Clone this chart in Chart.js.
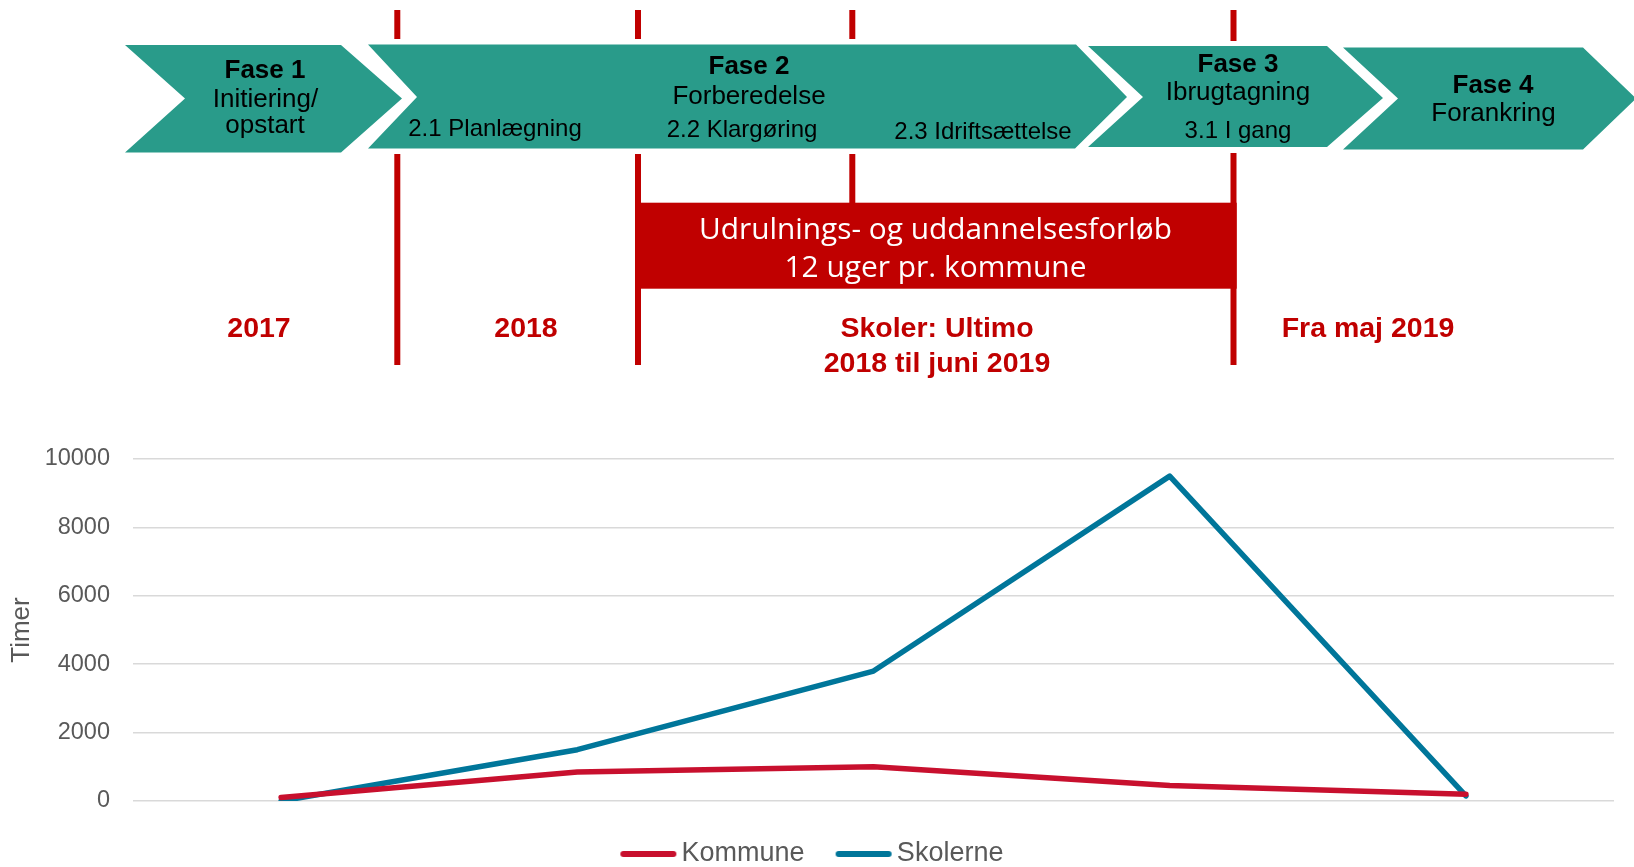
<!DOCTYPE html>
<html>
<head>
<meta charset="utf-8">
<script src="https://cdn.jsdelivr.net/npm/chart.js@4.4.1/dist/chart.umd.min.js"></script>
<style>
  html, body { margin: 0; padding: 0; background: #fff; }
  #wrap { position: relative; width: 1634px; height: 867px; overflow: hidden; }
  #wrap canvas { position: absolute; left: 0; top: 0; }
  #phases { position: absolute; left: 0; top: 0; font-family: "Liberation Sans", Arial, sans-serif; }
</style>
</head>
<body>
<div id="wrap">
  <canvas id="timerChart"></canvas>
  <svg id="phases" width="1634" height="400" xmlns="http://www.w3.org/2000/svg">
    <!-- røde skillelinjer -->
    <g fill="#C00000">
      <rect x="394.3" y="10" width="6" height="29"/>
      <rect x="394.3" y="154" width="6" height="211"/>
      <rect x="635" y="10" width="6" height="29"/>
      <rect x="635" y="154" width="6" height="211"/>
      <rect x="849.3" y="10" width="6" height="29"/>
      <rect x="849.3" y="154" width="6" height="50"/>
      <rect x="1230.5" y="10" width="6" height="31"/>
      <rect x="1230.5" y="153" width="6" height="212"/>
      <rect x="635" y="202.7" width="601.7" height="86"/>
    </g>
    <!-- faser -->
    <g fill="#299B8A">
      <polygon points="125,45 341,45 402,98.5 341,152.5 125,152.5 185,98.5"/>
      <polygon points="368,44.5 1076,44.5 1127,97 1075,148.5 368,148.5 417,97"/>
      <polygon points="1088,46 1327,46 1383,98 1327,147 1088,147 1143,97"/>
      <polygon points="1343,47.5 1583,47.5 1636,98.5 1583,149.5 1343,149.5 1398,98.5"/>
    </g>
    <g fill="#000" text-anchor="middle" font-size="26">
      <text x="265" y="78" font-weight="bold">Fase 1</text>
      <text x="265.5" y="107">Initiering/</text>
      <text x="265" y="133">opstart</text>
      <text x="749" y="74" font-weight="bold">Fase 2</text>
      <text x="749" y="104">Forberedelse</text>
      <text x="495" y="136" font-size="24">2.1 Planlægning</text>
      <text x="742" y="137" font-size="24">2.2 Klargøring</text>
      <text x="983" y="139" font-size="24">2.3 Idriftsættelse</text>
      <text x="1238" y="71.5" font-weight="bold">Fase 3</text>
      <text x="1238" y="100">Ibrugtagning</text>
      <text x="1238" y="138" font-size="24">3.1 I gang</text>
      <text x="1493" y="92.5" font-weight="bold">Fase 4</text>
      <text x="1493.5" y="120.5">Forankring</text>
    </g>
    <g fill="#fff" text-anchor="middle" font-size="30" font-family="'Open Sans', 'Noto Sans', sans-serif">
      <text x="935.5" y="238.5" textLength="473" lengthAdjust="spacingAndGlyphs">Udrulnings- og uddannelsesforløb</text>
      <text x="935.5" y="276.5" textLength="302" lengthAdjust="spacingAndGlyphs">12 uger pr. kommune</text>
    </g>
    <g fill="#C00000" text-anchor="middle" font-size="28.5" font-weight="bold">
      <text x="259" y="337">2017</text>
      <text x="526" y="337">2018</text>
      <text x="937" y="337">Skoler: Ultimo</text>
      <text x="937" y="371.5">2018 til juni 2019</text>
      <text x="1368" y="337">Fra maj 2019</text>
    </g>
  </svg>
</div>
<script>
const categories = ['2017', '2018', 'Ultimo 2018', 'Juni 2019', 'Fra maj 2019'];
const kommune = [100, 850, 1000, 450, 200];
const skolerne = [0, 1500, 3800, 9500, 150];
const yMin = 0;
const yMax = 10000;
const yStep = 2000;

const FONT = '"Liberation Sans", Arial, sans-serif';
const GREY = '#595959';
const RED = '#C8102E';
const BLUE = '#00769A';
Chart.defaults.font.family = FONT;

// legend marker: a short thick line with round ends
function legendLine(color) {
    const c = document.createElement('canvas');
    c.width = 58; c.height = 10;
    const g = c.getContext('2d');
    g.strokeStyle = color;
    g.lineWidth = 6;
    g.lineCap = 'round';
    g.beginPath(); g.moveTo(4, 5); g.lineTo(54, 5); g.stroke();
    return c;
}

new Chart(document.getElementById('timerChart'), {
    type: 'line',
    data: {
        labels: categories,
        datasets: [
            { label: 'Kommune', data: kommune, borderColor: RED, backgroundColor: RED, pointStyle: legendLine(RED),
              borderWidth: 5.5, pointRadius: 0, tension: 0, borderCapStyle: 'round', borderJoinStyle: 'round' },
            { label: 'Skolerne', data: skolerne, borderColor: BLUE, backgroundColor: BLUE, pointStyle: legendLine(BLUE),
              borderWidth: 5.5, pointRadius: 0, tension: 0, borderCapStyle: 'round', borderJoinStyle: 'round' }
        ]
    },
    options: {
        responsive: true,
        maintainAspectRatio: false,
        animation: false,
        layout: { padding: { top: 459, right: 20, bottom: -10.5, left: 18 } },
        plugins: {
            legend: {
                position: 'bottom',
                labels: { usePointStyle: true, pointStyleWidth: 39.5, padding: 39.25,
                          color: GREY, font: { size: 27 } }
            },
            tooltip: { enabled: false }
        },
        scales: {
            x: {
                offset: true,
                grid: { display: false },
                border: { display: false },
                ticks: { display: false },
                afterFit: s => { s.height = 0.25; }
            },
            y: {
                min: yMin, max: yMax,
                ticks: { stepSize: yStep, padding: 23, color: GREY, font: { size: 23.5 },
                         callback: v => String(v) },
                grid: { color: '#D9D9D9', lineWidth: 1.5, drawTicks: false },
                border: { display: false },
                title: { display: true, text: 'Timer', color: GREY, font: { size: 26 }, padding: { top: -12, bottom: 0 } },
                afterFit: s => { s.width = 115; }
            }
        }
    }
});
</script>
</body>
</html>
